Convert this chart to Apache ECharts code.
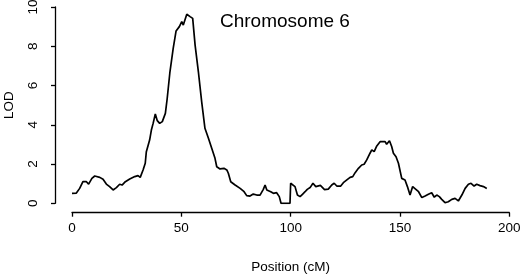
<!DOCTYPE html>
<html>
<head>
<meta charset="utf-8">
<script src="https://cdn.jsdelivr.net/npm/echarts@6/dist/echarts.min.js"></script>
<style>
  html, body { margin: 0; padding: 0; background: #fff; }
  #chart { width: 520px; height: 274px; }
</style>
</head>
<body>
<div id="chart"></div>
<script>
// position (cM) and LOD score
const positions = [
  0, 2, 3.5, 5, 6.6, 7.6, 9.1, 10.4, 12.7, 14.2, 15.7, 17.2, 18.8, 20.3, 21.8, 22.9,
  24.4, 26.4, 28.7, 30.2, 31.2, 32.5, 33.5, 34, 35.5, 36.3, 37.1, 38.1, 39, 40.1, 41.3,
  42.1, 42.7, 43.5, 44.8, 46.3, 47.6, 49.1, 50.2, 50.9, 52.5, 54, 55.2, 56.3, 57.8, 59.3,
  60.8, 62.4, 63.9, 65.4, 66.2, 67.7, 68.5, 69.5, 70.8, 71.5, 72.6, 74.6, 76.9, 78.7,
  79.9, 81.4, 82.9, 84.5, 86, 87.5, 88.3, 89.1, 89.8, 90.9, 92.1, 93.6, 94.8, 95.6, 99.7,
  100, 100.8, 102, 103.1, 104.3, 105.4, 106.6, 107.6, 108.9, 110.2, 111.5, 113.6, 115.5,
  117.2, 118, 118.8, 119.9, 121.1, 122.9, 124.1, 125.7, 127.2, 128.4, 129.5, 131, 132.5,
  133.6, 134.8, 136.3, 137.1, 138.2, 139.4, 140.9, 143.2, 143.9, 145.2, 146.2, 147, 148.2,
  149.3, 150.8, 152.3, 153.4, 154.6, 155.8, 157.4, 158.5, 160, 161.5, 163, 164.5, 165.7,
  166.8, 168, 169.1, 170.6, 172.1, 173.7, 175.2, 176.7, 178.3, 179.8, 181.3, 182.5, 183.9,
  185.1, 186.6, 188.2, 189.7
];
const lod = [
  0.51, 0.52, 0.76, 1.10, 1.10, 0.98, 1.27, 1.39, 1.32, 1.22, 0.98, 0.85, 0.68, 0.80, 0.97, 0.93,
  1.10, 1.24, 1.36, 1.41, 1.32, 1.70, 2.04, 2.63, 3.22, 3.73, 4.07, 4.55, 4.21, 4.07, 4.16,
  4.20, 4.58, 5.30, 6.70, 7.90, 8.78, 9.00, 9.25, 9.08, 9.63, 9.51, 9.42, 8.06, 6.70, 5.18,
  3.82, 3.31, 2.80, 2.29, 1.86, 1.75, 1.70, 1.78, 1.70, 1.53, 1.10, 0.93, 0.76, 0.59,
  0.39, 0.37, 0.47, 0.42, 0.42, 0.71, 0.93, 0.68, 0.59, 0.59, 0.51, 0.54, 0.34, 0, 0,
  1.02, 1.10, 0.85, 0.42, 0.34, 0.46, 0.59, 0.71, 0.80, 1.02, 0.85, 0.91, 0.70,
  0.72, 0.64, 0.93, 1.02, 0.88, 0.88, 1.05, 1.19, 1.32, 1.36, 1.56, 1.78, 1.95,
  1.99, 2.21, 2.55, 2.72, 2.63, 2.92, 3.14, 3.14, 3.01, 3.19, 2.89, 2.55, 2.37,
  2.04, 1.27, 1.19, 0.85, 0.42, 0.85, 0.70, 0.59, 0.29, 0.37, 0.46, 0.54, 0.31,
  0.42, 0.34, 0.20, 0.03, 0.08, 0.20, 0.25, 0.12, 0.42, 0.76, 0.97, 1.02, 0.88,
  0.97, 0.90, 0.85, 0.76
];
const xTicks = [0, 200, 50];  // min, max, interval
const yTicks = [0, 10, 2];

const font = "Liberation Sans, Arial, Helvetica, sans-serif";
const chart = echarts.init(document.getElementById("chart"));

const option = {
  backgroundColor: "#fff",
  animation: false,
  title: {
    text: "Chromosome 6",
    left: 220,
    top: 12,
    padding: 0,
    textStyle: { fontFamily: font, fontSize: 19, fontWeight: "normal", color: "#000" },
  },
  // R-style axes sit a little away from the plotting area
  grid: { left: 72, right: 10.7, top: 7, bottom: 70.7, containLabel: false, outerBoundsMode: "none" },
  xAxis: {
    type: "value",
    min: xTicks[0],
    max: xTicks[1],
    interval: xTicks[2],
    offset: 9.4,
    name: "Position (cM)",
    nameLocation: "middle",
    nameGap: 48,
    nameTextStyle: { fontFamily: font, fontSize: 13.5, color: "#000" },
    axisLine: { show: true, onZero: false, lineStyle: { color: "#000", width: 1.3 } },
    axisTick: { show: true, length: 4, lineStyle: { color: "#000", width: 1.3 } },
    axisLabel: { fontFamily: font, fontSize: 13.5, color: "#000", margin: 9 },
    splitLine: { show: false },
  },
  yAxis: {
    type: "value",
    min: yTicks[0],
    max: yTicks[1],
    interval: yTicks[2],
    offset: 17,
    name: "LOD",
    nameLocation: "middle",
    nameGap: 39,
    nameTextStyle: { fontFamily: font, fontSize: 13.5, color: "#000" },
    axisLine: { show: true, onZero: false, lineStyle: { color: "#000", width: 1.3 } },
    axisTick: { show: true, length: 4, lineStyle: { color: "#000", width: 1.3 } },
    axisLabel: { fontFamily: font, fontSize: 13.5, color: "#000", rotate: 90, margin: 15 },
    splitLine: { show: false },
  },
  series: [
    {
      type: "line",
      data: positions.map((p, i) => [p, lod[i]]),
      showSymbol: false,
      lineStyle: { color: "#000", width: 1.7 },
      z: 3,
    },
  ],
};
chart.setOption(option);
</script>
</body>
</html>
